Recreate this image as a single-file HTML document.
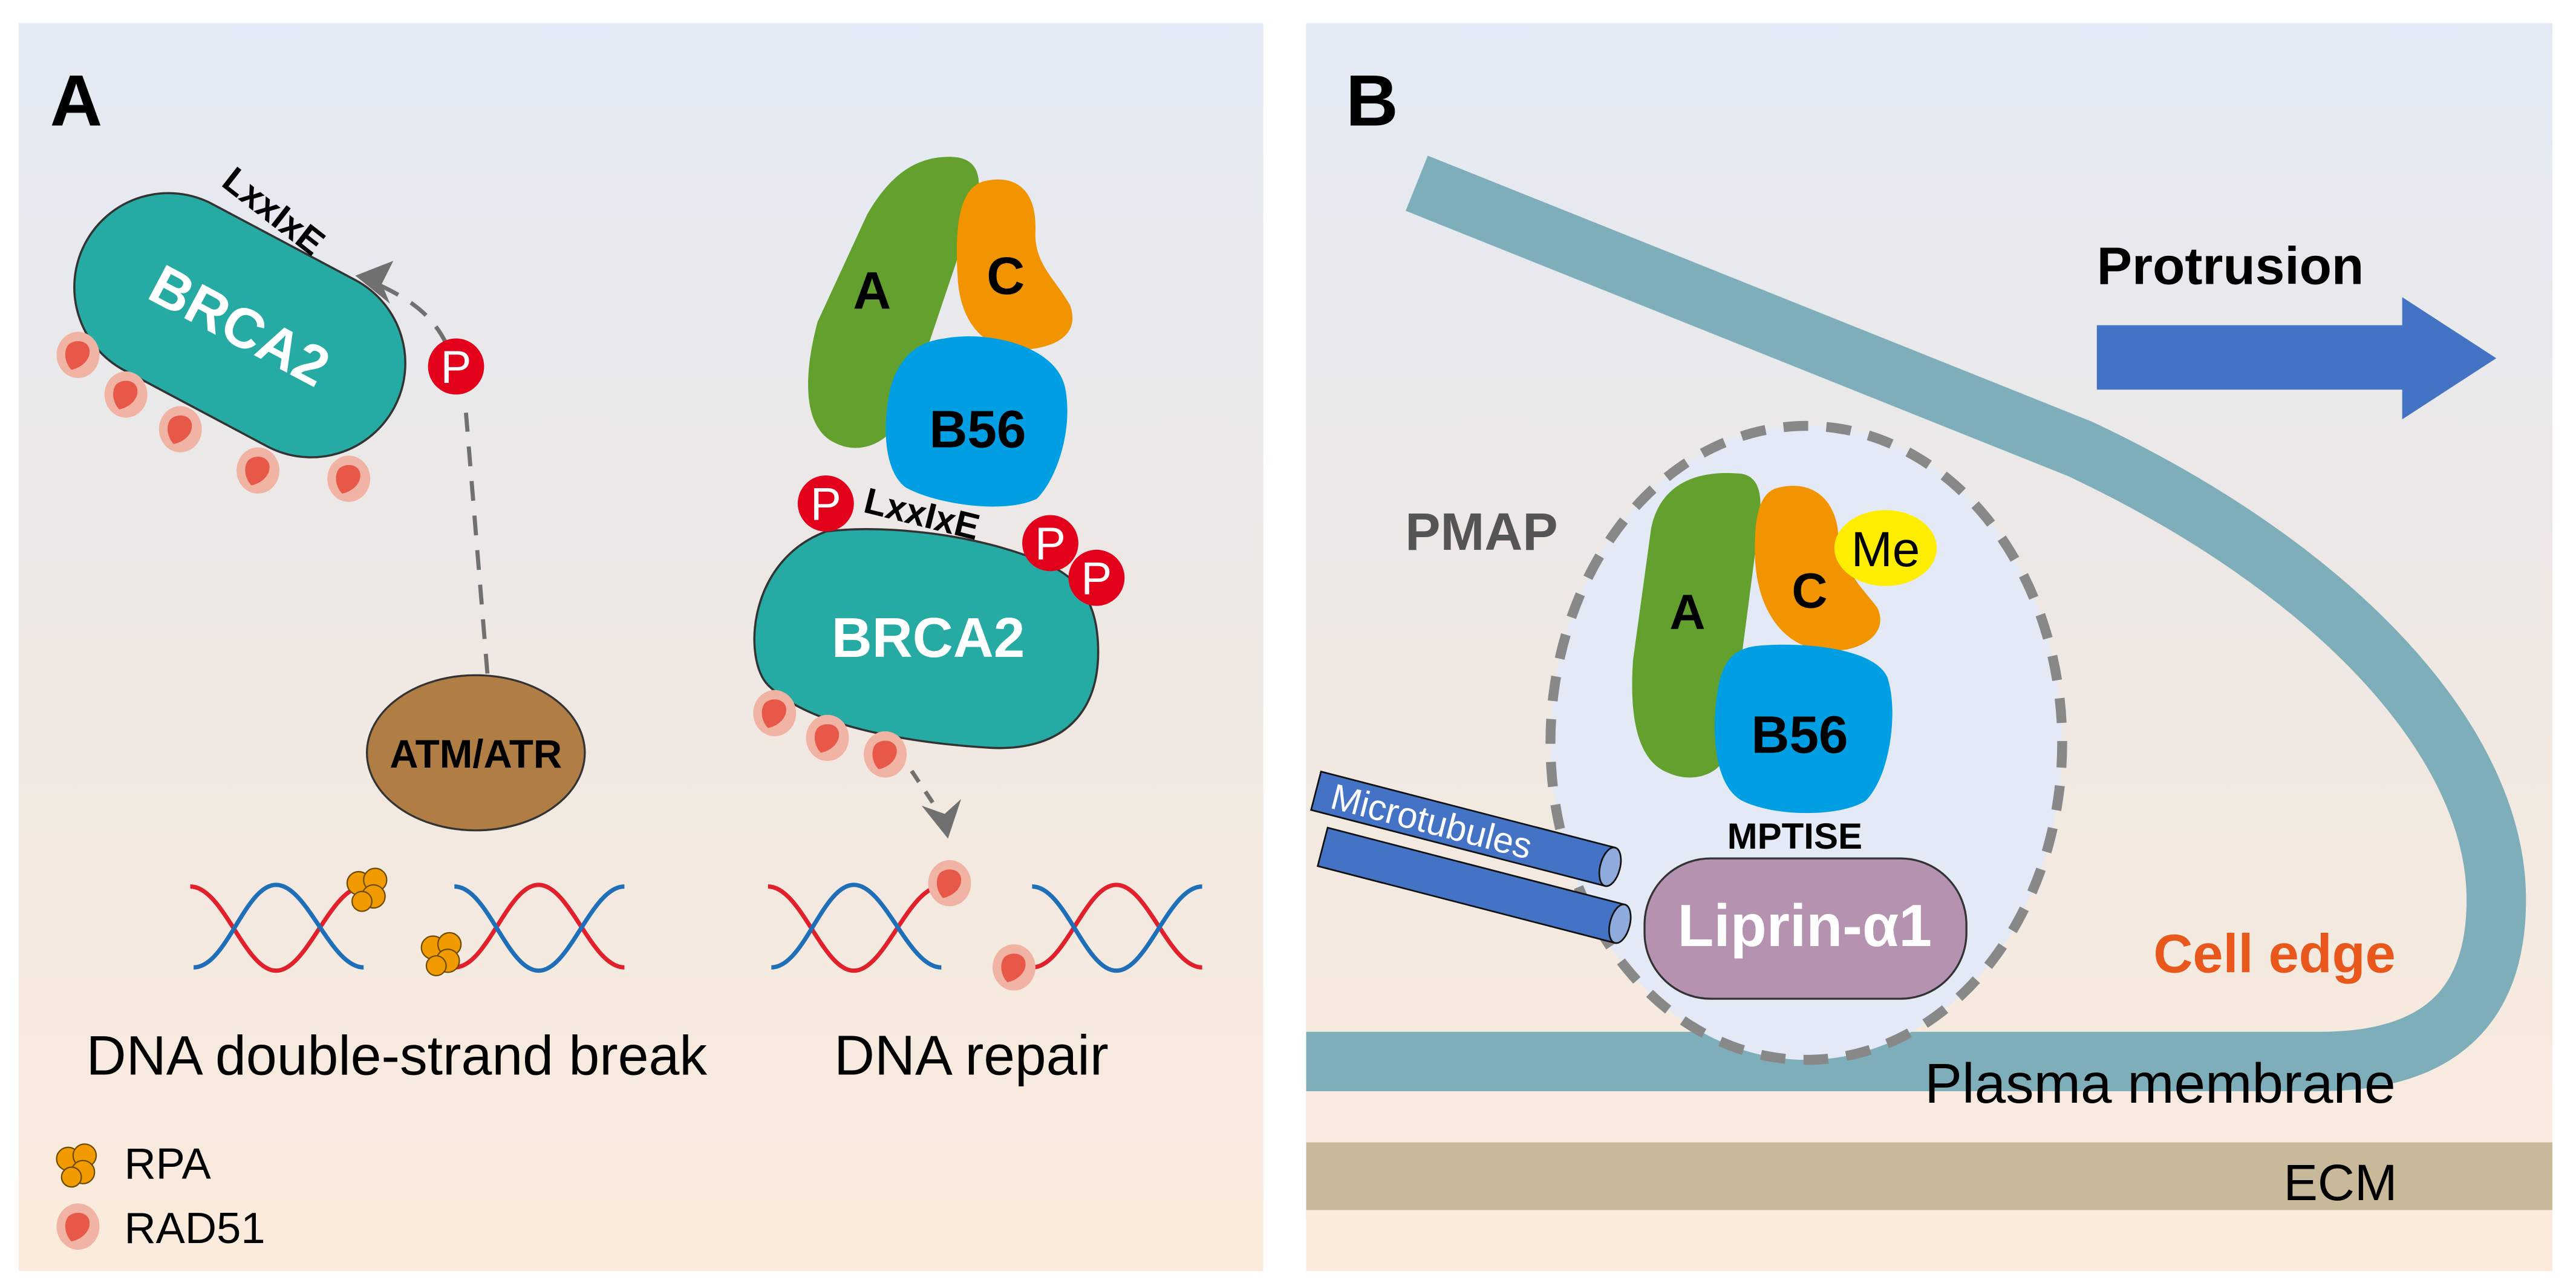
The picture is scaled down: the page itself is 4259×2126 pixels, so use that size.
<!DOCTYPE html>
<html><head><meta charset="utf-8"><style>
html,body{margin:0;padding:0;background:#fff}
svg{display:block}
text{font-family:"Liberation Sans",Arial,sans-serif}
</style></head><body>
<svg width="4259" height="2126" viewBox="0 0 1560 779" xmlns="http://www.w3.org/2000/svg">
<defs>
<linearGradient id="bg" x1="0" y1="0" x2="0" y2="1">
<stop offset="0" stop-color="#e3eaf5"/><stop offset="0.5" stop-color="#efe8e3"/><stop offset="1" stop-color="#fbebdc"/>
</linearGradient>
<clipPath id="cb"><rect x="791" y="14" width="755" height="756"/></clipPath>
<g id="rad"><ellipse cx="0" cy="0" rx="13" ry="14" fill="#f1b3a3"/><path d="M-6,-6 C-2,-10 7,-9 7,-2 C7,4 1,8 -4,9 C-8,5 -9,-2 -6,-6Z" fill="#e85848"/></g>
<g id="rpa" stroke="#6b4a00" stroke-width="0.8" fill="#f29b00"><circle cx="-5" cy="-3" r="7"/><circle cx="5" cy="-5" r="7"/><circle cx="4" cy="5" r="7"/><circle cx="-3" cy="8" r="6"/></g>
<g id="pp"><circle r="17" fill="#e2001a"/><text x="0" y="10" font-size="28" fill="#fff" text-anchor="middle">P</text></g>
</defs>
<rect width="1560" height="779" fill="#fff"/>
<rect x="11" y="14" width="754" height="756" fill="url(#bg)"/>
<rect x="791" y="14" width="755" height="756" fill="url(#bg)"/>

<!-- Panel A -->
<text x="30" y="76" font-size="44" font-weight="bold">A</text>
<g transform="rotate(28 145 197)">
<rect x="39" y="140" width="212" height="114" rx="57" fill="#26aba4" stroke="#333" stroke-width="1.3"/>
<text x="145" y="209" font-size="34" font-weight="bold" fill="#fff" text-anchor="middle">BRCA2</text>
</g>
<text x="0" y="0" font-size="22" font-weight="bold" transform="translate(133,112) rotate(38)">LxxIxE</text>
<use href="#rad" x="47" y="215"/><use href="#rad" x="76" y="239"/><use href="#rad" x="109" y="260"/><use href="#rad" x="156" y="285"/><use href="#rad" x="211" y="290"/>
<path d="M295,408 L282,250 M270,208 C262,192 250,182 228,172" fill="none" stroke="#707070" stroke-width="2.5" stroke-dasharray="12,9"/>
<path d="M215,167 L238,158 L231,172 L236,184Z" fill="#707070"/>
<use href="#pp" x="276" y="222"/>
<ellipse cx="288" cy="456" rx="66" ry="47" fill="#b07d45" stroke="#333" stroke-width="1.2"/>
<text x="288" y="465" font-size="24" font-weight="bold" text-anchor="middle">ATM/ATR</text>

<g fill="none" stroke-width="2.6">
<path d="M115,537 C135,537 148,588 167,588 C186,588 200,537 220,537" stroke="#e0202a"/>
<path d="M117,586 C137,586 148,536 167,536 C186,536 200,586 220,586" stroke="#1e6fb8"/>
<path d="M275,586 C295,586 307,536 326,536 C345,536 358,586 378,586" stroke="#e0202a"/>
<path d="M275,537 C295,537 307,588 326,588 C345,588 358,537 378,537" stroke="#1e6fb8"/>
<path d="M465,537 C485,537 498,588 517,588 C536,588 550,537 570,537" stroke="#e0202a"/>
<path d="M467,586 C487,586 498,536 517,536 C536,536 550,586 570,586" stroke="#1e6fb8"/>
<path d="M625,586 C645,586 657,536 676,536 C695,536 708,586 728,586" stroke="#e0202a"/>
<path d="M625,537 C645,537 657,588 676,588 C695,588 708,537 728,537" stroke="#1e6fb8"/>
</g>
<use href="#rpa" x="222" y="538"/><use href="#rpa" x="267" y="577"/>
<use href="#rad" x="575" y="535"/><use href="#rad" x="614" y="586"/>
<text x="52" y="651" font-size="33.5">DNA double-strand break</text>
<text x="505" y="651" font-size="34">DNA repair</text>
<use href="#rpa" x="46" y="705"/>
<text x="75" y="714" font-size="26.5">RPA</text>
<use href="#rad" x="47" y="743"/>
<text x="75" y="753" font-size="26.5">RAD51</text>

<path d="M575,95 C600,95 595,120 582,150 L550,245 C540,270 520,276 505,268 C485,258 487,225 495,195 L525,130 C540,104 556,95 575,95Z" fill="#63a02d"/>
<path d="M595,110 C615,105 628,115 627,140 C626,160 640,170 648,185 C655,205 635,212 615,212 C595,210 582,195 580,170 C578,140 580,115 595,110Z" fill="#f29400"/>
<path d="M572,205 C600,200 640,210 645,235 C650,260 640,290 628,302 C608,312 565,305 548,295 C533,283 535,250 540,232 C546,215 556,207 572,205Z" fill="#009fe3"/>
<text x="528" y="187" font-size="32" font-weight="bold" text-anchor="middle">A</text>
<text x="609" y="178" font-size="32" font-weight="bold" text-anchor="middle">C</text>
<text x="592" y="271" font-size="32" font-weight="bold" text-anchor="middle">B56</text>
<path d="M500,322 C530,318 580,322 620,336 C650,346 665,360 665,395 C665,435 640,455 600,453 C550,450 490,440 465,415 C450,400 452,340 500,322Z" fill="#26aba4" stroke="#333" stroke-width="1.3"/>
<text x="562" y="398" font-size="34" font-weight="bold" fill="#fff" text-anchor="middle">BRCA2</text>
<text x="0" y="0" font-size="22" font-weight="bold" transform="translate(522,310) rotate(14)">LxxIxE</text>
<use href="#pp" x="500" y="305"/><use href="#pp" x="636" y="329"/><use href="#pp" x="664" y="350"/>
<use href="#rad" x="469" y="432"/><use href="#rad" x="501" y="447"/><use href="#rad" x="536" y="457"/>
<path d="M552,467 L566,488" fill="none" stroke="#707070" stroke-width="2.5" stroke-dasharray="8,7"/>
<path d="M574,508 L558,488 L572,493 L582,484Z" fill="#707070"/>

<!-- Panel B -->
<rect x="791" y="692" width="755" height="41" fill="#c8b99a"/>
<g clip-path="url(#cb)">
<g transform="translate(-285,0)">
<text x="1100" y="76" font-size="44" font-weight="bold">B</text>
<path d="M1143,111 L1545,272 C1700,345 1797,450 1797,545 C1797,612 1760,643 1690,643 L1070,643" fill="none" stroke="#7eaeb9" stroke-width="36"/>
<text x="1737" y="727" font-size="31" text-anchor="end">ECM</text>
<text x="1736" y="668" font-size="34" text-anchor="end">Plasma membrane</text>
<text x="1736" y="589" font-size="33" font-weight="bold" fill="#e8581c" text-anchor="end">Cell edge</text>
<text x="1555" y="172" font-size="32" font-weight="bold">Protrusion</text>
<path d="M1555,197 L1740,197 L1740,180 L1797,217 L1740,254 L1740,236 L1555,236Z" fill="#4472c4"/>
<ellipse cx="1379" cy="450" rx="155" ry="192" fill="#e3eaf5" stroke="#888" stroke-width="6" stroke-dasharray="15,11"/>
<text x="1136" y="333" font-size="32" font-weight="bold" fill="#555">PMAP</text>
<path d="M1340,287 C1355,290 1352,310 1348,335 L1333,450 C1330,470 1310,475 1295,468 C1275,460 1272,430 1274,400 L1285,320 C1290,295 1310,284 1340,287Z" fill="#63a02d"/>
<path d="M1360,296 C1380,290 1395,300 1398,320 C1400,345 1412,355 1422,368 C1430,385 1410,396 1390,394 C1365,392 1350,370 1348,340 C1347,315 1350,300 1360,296Z" fill="#f29400"/>
<ellipse cx="1427" cy="332" rx="31" ry="23" fill="#ffee00"/>
<path d="M1352,391 C1380,389 1420,393 1428,410 C1435,430 1430,470 1415,485 C1400,495 1360,495 1340,485 C1322,475 1322,440 1325,420 C1328,400 1335,392 1352,391Z" fill="#009fe3"/>
<text x="1307" y="381" font-size="30" font-weight="bold" text-anchor="middle">A</text>
<text x="1381" y="368" font-size="30" font-weight="bold" text-anchor="middle">C</text>
<text x="1427" y="343" font-size="30" text-anchor="middle">Me</text>
<text x="1375" y="456" font-size="32" font-weight="bold" text-anchor="middle">B56</text>
<text x="1372" y="514" font-size="22" font-weight="bold" text-anchor="middle">MPTISE</text>
<rect x="1281" y="520" width="195" height="85" rx="40" fill="#b592b0" stroke="#333" stroke-width="1.2"/>
<text x="1378" y="573" font-size="36" font-weight="bold" fill="#fff" text-anchor="middle">Liprin-α1</text>
<g transform="translate(1086,513) rotate(14.5)">
<rect x="0" y="-12" width="186" height="24" fill="#4472c4" stroke="#111" stroke-width="1"/>
<ellipse cx="186" cy="0" rx="6" ry="12" fill="#8faadc" stroke="#111" stroke-width="1"/>
</g>
<g transform="translate(1082,479) rotate(14.5)">
<rect x="0" y="-12" width="184" height="24" fill="#4472c4" stroke="#111" stroke-width="1"/>
<ellipse cx="184" cy="0" rx="6" ry="12" fill="#8faadc" stroke="#111" stroke-width="1"/>
<text x="10" y="8" font-size="22" fill="#fff">Microtubules</text>
</g>
</g>
</g>
</svg>
</body></html>
